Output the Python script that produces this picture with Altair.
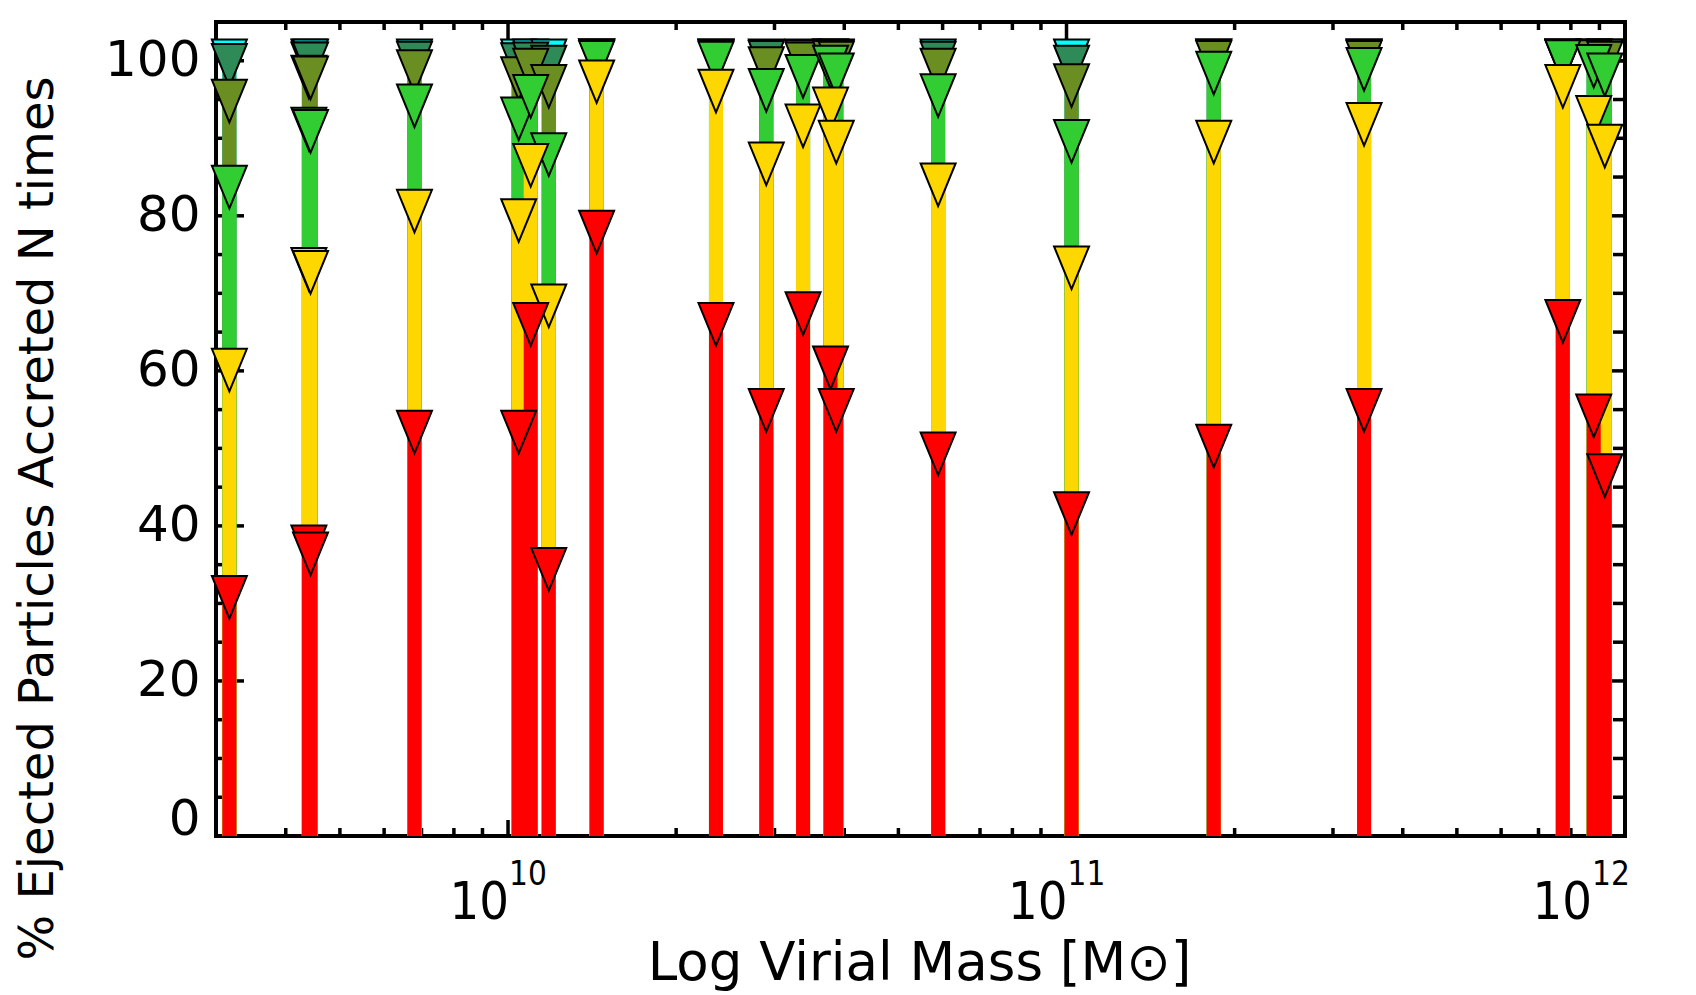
import altair as alt
import pandas as pd

# ---- data ----
mass = [3.17e9, 4.40e9, 4.43e9, 6.80e9, 1.045e10, 1.098e10, 1.183e10, 1.441e10,
        2.357e10, 2.90e10, 3.375e10, 3.78e10, 3.87e10, 5.89e10, 1.021e11,
        1.835e11, 3.41e11, 7.74e11, 8.79e11, 9.20e11]
n1 = [30.8, 37.3, 36.4, 52.1, 52.1, 66.0, 34.4, 77.9, 66.0, 54.9, 67.4, 60.4,
      54.9, 49.3, 41.6, 50.3, 54.9, 66.4, 54.2, 46.5]
n2 = [60.1, 73.1, 72.7, 80.6, 79.4, 86.5, 68.4, 97.3, 96.1, 86.7, 91.6, 93.8,
      89.5, 84.0, 73.3, 89.5, 91.8, 96.7, 92.7, 89.0]
n3 = [83.7, 91.2, 90.9, 94.2, 92.5, 95.4, 87.9, 99.8, 99.7, 96.2, 98.0, 99.2,
      98.2, 95.5, 89.6, 98.4, 98.9, 99.9, 99.3, 98.2]
n4 = [94.8, 97.9, 97.8, 98.6, 97.7, 98.8, 96.7, 100.0, 99.9, 99.0, 99.6, 99.8,
      99.7, 98.8, 96.8, 99.8, 99.8, 100.0, 99.9, 99.7]
n5 = [99.4, 99.6, 99.6, 99.7, 99.5, 99.6, 99.2, 100.0, 100.0, 99.8, 99.9, 100.0,
      99.9, 99.7, 99.2, 100.0, 100.0, 100.0, 100.0, 100.0]
n6 = [100.0, 100.0, 100.0, 100.0, 100.0, 100.0, 100.0, 100.0, 100.0, 100.0,
      100.0, 100.0, 100.0, 100.0, 100.0, 100.0, 100.0, 100.0, 100.0, 100.0]

# drawing order: highest N first, N=1 (red) last
levels = [n6, n5, n4, n3, n2, n1]
level_colors = ["#00FFFF", "#2E8B57", "#6B8E23", "#32CD32", "#FFD700", "#FF0000"]

y_major = [0, 20, 40, 60, 80, 100]
y_minor = [5, 10, 15, 25, 30, 35, 45, 50, 55, 65, 70, 75, 85, 90, 95, 100]
x_major = [1e10, 1e11, 1e12]
x_minor = [4e9, 5e9, 6e9, 7e9, 8e9, 9e9,
           2e10, 3e10, 4e10, 5e10, 6e10, 7e10, 8e10, 9e10,
           2e11, 3e11, 4e11, 5e11, 6e11, 7e11, 8e11, 9e11]
x_label_base = ["10", "10", "10"]
x_label_exp = ["10", "11", "12"]

W, H = 1409, 814
XDOM = [3e9, 1e12]
YDOM = [0, 105]

TITLE_FONT = "DejaVu Sans"
NUM_FONT = "DejaVu Sans"
XLAB_FONT = "Liberation Sans Narrow, DejaVu Sans Condensed, Liberation Sans"

x_scale = alt.Scale(type="log", domain=XDOM, nice=False)
y_scale = alt.Scale(domain=YDOM, nice=False, zero=False)

x_axis = alt.Axis(labels=False, ticks=False, domain=False, grid=False,
                  title="Log Virial Mass [M\u2299]", titleFont=TITLE_FONT,
                  titleFontSize=53, titleFontWeight="normal", titleColor="black",
                  titleX=703, titleY=143, titleBaseline="alphabetic", titleAlign="center")
y_axis = alt.Axis(values=y_major, ticks=False, domain=False, grid=False,
                  labelFont=NUM_FONT, labelFontSize=50, labelColor="black",
                  labelPadding=16, labelFlush=True, labelFlushOffset=8,
                  title="% Ejected Particles Accreted N times", titleFont=TITLE_FONT,
                  titleFontSize=48, titleFontWeight="normal", titleColor="black",
                  titleAngle=270, titleX=-164, titleY=496,
                  titleBaseline="alphabetic", titleAlign="center")

def X(field="mass"):
    return alt.X(f"{field}:Q", scale=x_scale, axis=x_axis)

def Y(field="val"):
    return alt.Y(f"{field}:Q", scale=y_scale, axis=y_axis)

TW = 3.5
layers = []
# ---- inward ticks (drawn first, under the bars) ----
ym = pd.DataFrame({"val": y_major})
yn = pd.DataFrame({"val": y_minor})
xm = pd.DataFrame({"mass": x_major})
xn = pd.DataFrame({"mass": x_minor})
layers.append(alt.Chart(ym).mark_rule(color="black", strokeWidth=TW).encode(
    y=Y(), x=alt.value(0), x2=alt.value(28)))
layers.append(alt.Chart(yn).mark_rule(color="black", strokeWidth=TW).encode(
    y=Y(), x=alt.value(0), x2=alt.value(7)))
layers.append(alt.Chart(ym).mark_rule(color="black", strokeWidth=TW).encode(
    y=Y(), x=alt.value(W), x2=alt.value(W - 28)))
layers.append(alt.Chart(yn).mark_rule(color="black", strokeWidth=TW).encode(
    y=Y(), x=alt.value(W), x2=alt.value(W - 12)))
layers.append(alt.Chart(xm).mark_rule(color="black", strokeWidth=TW).encode(
    x=X(), y=alt.value(H), y2=alt.value(H - 16)))
layers.append(alt.Chart(xn).mark_rule(color="black", strokeWidth=TW).encode(
    x=X(), y=alt.value(H), y2=alt.value(H - 8)))
layers.append(alt.Chart(xm).mark_rule(color="black", strokeWidth=TW).encode(
    x=X(), y=alt.value(0), y2=alt.value(17)))
layers.append(alt.Chart(xn).mark_rule(color="black", strokeWidth=TW).encode(
    x=X(), y=alt.value(0), y2=alt.value(8)))

# ---- bars and triangle markers, level by level ----
TRI = "M-1,-1.217L1,-1.217L0,1.217Z"
for vals, col in zip(levels, level_colors):
    df = pd.DataFrame({"mass": mass, "val": vals, "base": [0.0] * len(mass)})
    layers.append(alt.Chart(df).mark_rule(color=col, strokeWidth=14).encode(
        x=X(), y=Y("base"), y2="val:Q"))
    layers.append(alt.Chart(df).mark_point(shape=TRI, size=1225, filled=True,
                                           fill=col, stroke="black", strokeWidth=2,
                                           opacity=1).encode(x=X(), y=Y()))

# ---- x tick labels 10^n (the last one is pulled in from the corner) ----
lab = pd.DataFrame({"mass": x_major, "base": x_label_base, "exp": x_label_exp})
lab_in = lab.iloc[:2]
lab_end = lab.iloc[2:]
for part, shift in ((lab_in, 1), (lab_end, -33)):
    layers.append(alt.Chart(part).mark_text(align="right", baseline="alphabetic",
                                            font=XLAB_FONT, fontSize=52, color="black",
                                            dx=shift).encode(
        x=X(), y=alt.value(897), text="base:N"))
    layers.append(alt.Chart(part).mark_text(align="left", baseline="alphabetic",
                                            font=XLAB_FONT, fontSize=33, color="black",
                                            dx=shift).encode(
        x=X(), y=alt.value(863), text="exp:N"))

chart = alt.layer(*layers).properties(
    width=W, height=H,
    autosize=alt.AutoSizeParams(type="none"),
    padding={"left": 216, "top": 22, "right": 1696 - 216 - W, "bottom": 995 - 22 - H},
    background="white",
).configure_view(stroke="black", strokeWidth=4)

chart.save("out.html", embed_options={"renderer": "svg", "actions": False})
